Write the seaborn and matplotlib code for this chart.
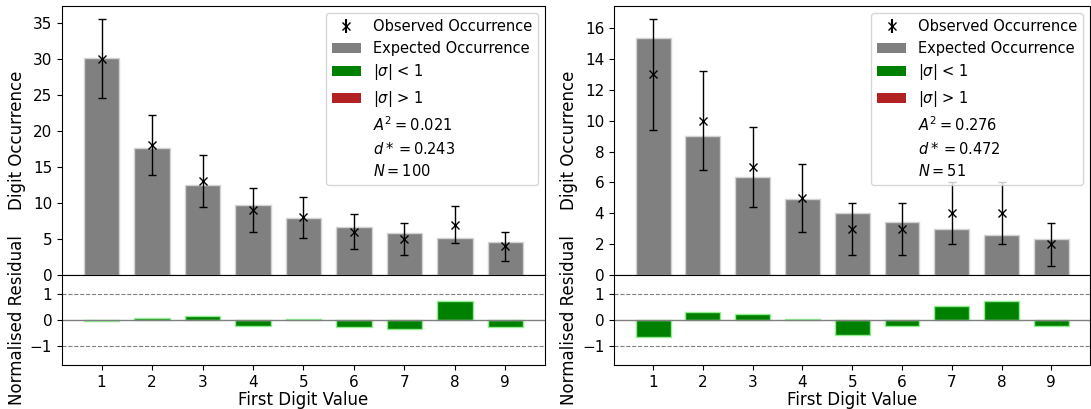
import matplotlib
matplotlib.use('Agg')
import matplotlib.pyplot as plt
from matplotlib.patches import Patch
from matplotlib.ticker import MaxNLocator
import pandas as pd
import seaborn as sns

#=====Data=====
digits = [1, 2, 3, 4, 5, 6, 7, 8, 9]

# panel 1 (N = 100)
obs_a = [30, 18, 13, 9, 8, 6, 5, 7, 4]
exp_a = [30.1, 17.6, 12.5, 9.7, 7.9, 6.7, 5.8, 5.1, 4.6]
err_a = [5.5, 4.2, 3.6, 3.0, 2.8, 2.4, 2.2, 2.6, 2.0]
res_a = [-0.02, 0.09, 0.14, -0.22, 0.03, -0.25, -0.35, 0.72, -0.26]
stats_a = [r'$A^2 = 0.021$', r'$d* = 0.243$', r'$N = 100$']

# panel 2 (N = 51)
obs_b = [13, 10, 7, 5, 3, 3, 4, 4, 2]
exp_b = [15.35, 8.98, 6.37, 4.94, 4.04, 3.41, 2.96, 2.61, 2.33]
err_b = [3.6, 3.2, 2.6, 2.2, 1.7, 1.7, 2.0, 2.0, 1.4]
res_b = [-0.65, 0.32, 0.24, 0.03, -0.58, -0.23, 0.52, 0.70, -0.23]
stats_b = [r'$A^2 = 0.276$', r'$d* = 0.472$', r'$N = 51$']

plt.rcParams['font.size'] = 11
plt.rcParams['axes.labelsize'] = 12

fig = plt.figure(figsize=(10.91, 4.09), dpi=100)

def panel(x0, x1, obs, exp, err, res, stats):
    ax_top = fig.add_axes([x0, 0.3276, x1 - x0, 0.985 - 0.3276])
    ax_bot = fig.add_axes([x0, 0.1076, x1 - x0, 0.3276 - 0.1076], sharex=ax_top)

    df = pd.DataFrame({'digit': digits, 'obs': obs, 'exp': exp, 'err': err, 'res': res})
    df['sig'] = ['low' if abs(r) < 1 else 'high' for r in res]

    # expected counts + observed with errors
    sns.barplot(data=df, x='digit', y='exp', native_scale=True, color='grey',
                saturation=1, width=0.7, edgecolor='lightgrey', linewidth=1, ax=ax_top)
    ax_top.errorbar(df['digit'], df['obs'], yerr=df['err'], fmt='x', color='k',
                    capsize=3, elinewidth=1, markersize=6)
    ax_top.set_ylim(bottom=0)
    ax_top.yaxis.set_major_locator(MaxNLocator(nbins=9, steps=[1, 2, 5, 10]))
    ax_top.set_ylabel('Digit Occurrence')
    ax_top.set_xlabel('')
    ax_top.tick_params(axis='x', which='both', bottom=False, labelbottom=False)

    h_obs = ax_top.errorbar([], [], yerr=[], fmt='x', color='k', capsize=3)
    handles = [h_obs, Patch(facecolor='grey'), Patch(facecolor='green'),
               Patch(facecolor='firebrick')]
    labels = ['Observed Occurrence', 'Expected Occurrence',
              r'$|\sigma|$ < 1', r'$|\sigma|$ > 1']
    for s in stats:
        handles.append(Patch(facecolor='none', edgecolor='none'))
        labels.append(s)
    ax_top.legend(handles, labels, loc='upper right', fontsize=10.5, labelspacing=0.45)

    # normalised residuals
    sns.barplot(data=df, x='digit', y='res', hue='sig', native_scale=True,
                palette={'low': 'green', 'high': 'firebrick'}, saturation=1,
                width=0.7, edgecolor='lightgreen', linewidth=1, dodge=False,
                legend=False, ax=ax_bot)
    ax_bot.axhline(0, color='grey', linewidth=1)
    ax_bot.axhline(1, color='grey', linewidth=0.8, linestyle='--')
    ax_bot.axhline(-1, color='grey', linewidth=0.8, linestyle='--')
    ax_bot.set_ylim(-1.7, 1.7)
    ax_bot.set_yticks([-1, 0, 1])
    ax_bot.set_xticks(digits)
    ax_bot.set_xlabel('First Digit Value', labelpad=1)
    ax_bot.set_ylabel('Normalised Residual')

    lx = -0.075
    ax_top.yaxis.set_label_coords(lx, 0.5)
    ax_bot.yaxis.set_label_coords(lx, 0.5)
    return ax_top, ax_bot

panel(0.0568, 0.4995, obs_a, exp_a, err_a, res_a, stats_a)
panel(0.5628, 0.9995, obs_b, exp_b, err_b, res_b, stats_b)

plt.savefig('out.png', dpi=100)
print("Saved: out.png")
